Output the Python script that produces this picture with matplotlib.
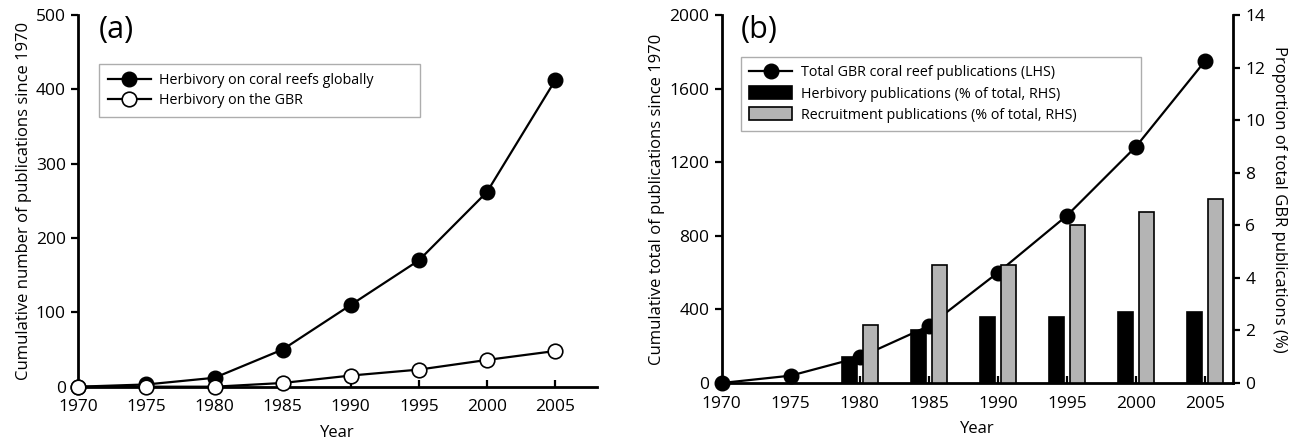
import matplotlib
matplotlib.use("Agg")
import matplotlib.pyplot as plt
from matplotlib.lines import Line2D
from matplotlib.patches import Patch

plt.rcParams['font.family'] = ['Open Sans', 'DejaVu Sans']

# ---- data ----
years = [1970, 1975, 1980, 1985, 1990, 1995, 2000, 2005]
herb_global = [0, 3, 12, 50, 110, 170, 262, 412]
herb_gbr = [0, 0, 0, 5, 15, 23, 36, 48]

total_gbr = [0, 40, 140, 310, 600, 910, 1285, 1750]
bar_years = [1980, 1985, 1990, 1995, 2000, 2005]
herb_pct = [1.0, 2.0, 2.5, 2.5, 2.7, 2.7]
recr_pct = [2.2, 4.5, 4.5, 6.0, 6.5, 7.0]

W, H = 1294, 445
fig = plt.figure(figsize=(W / 100, H / 100), dpi=100)

def fx(px):
    return px / W

def fy(py):
    return 1 - py / H

TICK_FS = 12.5
LAB_FS = 12
LEG_FS = 10.3
SPW = 2.0
MS = 10.5

def style(ax):
    for s in ['top', 'right']:
        ax.spines[s].set_visible(False)
    for s in ['left', 'bottom']:
        ax.spines[s].set_linewidth(SPW)
    ax.tick_params(axis='x', direction='in', length=5, width=1.6, labelsize=TICK_FS, pad=9)
    ax.tick_params(axis='y', direction='out', length=5, width=1.6, labelsize=TICK_FS, pad=4)

# ---- panel (a) ----
axa = fig.add_axes([fx(78.3), fy(386.7), fx(596.7) - fx(78.3), fy(15) - fy(386.7)])
style(axa)
axa.plot(years, herb_global, '-o', color='black', lw=1.6, ms=MS,
         mfc='black', mec='black', clip_on=False, zorder=3,
         label='Herbivory on coral reefs globally')
axa.plot(years, herb_gbr, '-o', color='black', lw=1.6, ms=MS,
         mfc='white', mec='black', mew=1.2, clip_on=False, zorder=4,
         label='Herbivory on the GBR')
axa.set_xlim(1970, 2008.05)
axa.set_ylim(0, 500)
axa.set_xticks(years)
axa.set_yticks([0, 100, 200, 300, 400, 500])
axa.set_xlabel('Year', fontsize=LAB_FS, labelpad=7)
axa.set_ylabel('Cumulative number of publications since 1970', fontsize=LAB_FS, labelpad=3)
axa.text(fx(99), fy(30), '(a)', transform=fig.transFigure, fontsize=22,
         va='center', ha='left')
x0, y0, x1, y1 = fx(99.3), fy(121.7), fx(420), fy(59.3)
lega = axa.legend(loc='center left', bbox_to_anchor=(x0, y0, x1 - x0, y1 - y0),
                  bbox_transform=fig.transFigure, mode='expand', fontsize=LEG_FS,
                  frameon=True, fancybox=False, edgecolor='#999999', borderpad=0.6,
                  handlelength=3.0, handletextpad=0.6, labelspacing=0.4, borderaxespad=0)
lega.get_frame().set_linewidth(1.0)

# ---- panel (b) ----
axb = fig.add_axes([fx(721.7), fy(383), fx(1232.7) - fx(721.7), fy(15) - fy(383)])
style(axb)
axb.plot(years, total_gbr, '-o', color='black', lw=1.6, ms=MS, mfc='black',
         clip_on=False, zorder=3)
axb.set_xlim(1970, 2007.0)
axb.set_ylim(0, 2000)
axb.set_xticks(years)
axb.set_yticks([0, 400, 800, 1200, 1600, 2000])
axb.set_xlabel('Year', fontsize=LAB_FS, labelpad=7)
axb.set_ylabel('Cumulative total of publications since 1970', fontsize=LAB_FS, labelpad=3)

axr = axb.twinx()
for s in ['top', 'left', 'bottom']:
    axr.spines[s].set_visible(False)
axr.spines['right'].set_linewidth(SPW)
axr.tick_params(axis='y', direction='out', length=5, width=1.6, labelsize=TICK_FS, pad=4)
bw = 1.05
axr.bar([y - 0.76 for y in bar_years], herb_pct, width=bw, color='black',
        edgecolor='black', lw=1.2)
axr.bar([y + 0.76 for y in bar_years], recr_pct, width=bw, color='#b4b4b4',
        edgecolor='black', lw=1.2)
axr.set_ylim(0, 14)
axr.set_yticks([0, 2, 4, 6, 8, 10, 12, 14])
axr.set_ylabel('Proportion of total GBR publications (%)', fontsize=LAB_FS,
               rotation=270, labelpad=16)
axb.text(fx(741), fy(30), '(b)', transform=fig.transFigure, fontsize=22,
         va='center', ha='left')

handles = [
    Line2D([0], [0], color='black', lw=1.6, marker='o', ms=MS, mfc='black'),
    Patch(facecolor='black', edgecolor='black', lw=1.2),
    Patch(facecolor='#b4b4b4', edgecolor='black', lw=1.2),
]
labels = ['Total GBR coral reef publications (LHS)',
          'Herbivory publications (% of total, RHS)',
          'Recruitment publications (% of total, RHS)']
x0, y0, x1, y1 = fx(740.7), fy(136), fx(1141), fy(51.7)
legb = axr.legend(handles, labels, loc='center left',
                  bbox_to_anchor=(x0, y0, x1 - x0, y1 - y0),
                  bbox_transform=fig.transFigure, mode='expand', fontsize=LEG_FS,
                  frameon=True, fancybox=False, edgecolor='#999999', borderpad=0.6,
                  handlelength=3.0, handleheight=1.0, handletextpad=0.6,
                  labelspacing=0.4, borderaxespad=0)
legb.get_frame().set_linewidth(1.0)

fig.savefig('out.png', dpi=100)
